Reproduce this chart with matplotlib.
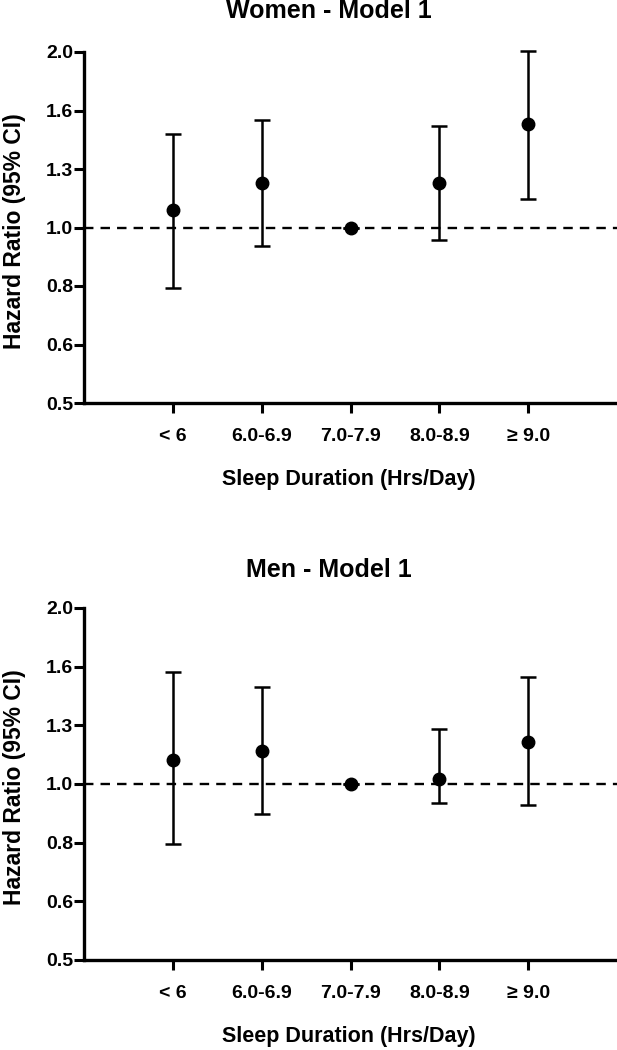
import numpy as np
import matplotlib
matplotlib.use("Agg")
import matplotlib.pyplot as plt
from matplotlib.ticker import FixedLocator, FixedFormatter, NullLocator

categories = ["< 6", "6.0-6.9", "7.0-7.9", "8.0-8.9", "\u2265 9.0"]
ytick_labels = ["0.5", "0.6", "0.8", "1.0", "1.3", "1.6", "2.0"]

women_hr = [1.071, 1.191, 1.0, 1.191, 1.504]
women_lo = [0.789, 0.930, 1.0, 0.951, 1.121]
women_hi = [1.444, 1.528, 1.0, 1.494, 2.01]

men_hr = [1.099, 1.14, 1.0, 1.021, 1.18]
men_lo = [0.79, 0.89, 1.0, 0.929, 0.92]
men_hi = [1.554, 1.467, 1.0, 1.243, 1.526]

plt.rcParams['font.family'] = ['Liberation Sans', 'DejaVu Sans']
plt.rcParams['font.weight'] = 'bold'

W, H = 617, 1050
fig = plt.figure(figsize=(W / 100, H / 100), dpi=100)

def panel(rect, title, hr, lo, hi, title_base):
    ax = fig.add_axes(rect)
    x = np.arange(1, len(categories) + 1)
    hr = np.array(hr); lo = np.array(lo); hi = np.array(hi)
    ax.axhline(1.0, color='black', lw=1.7, ls=(0, (4, 3)), zorder=1)
    ax.errorbar(x, hr, yerr=[hr - lo, hi - hr], fmt='o', color='black',
                ms=9, elinewidth=1.8, capsize=5.5, capthick=1.8,
                clip_on=False, zorder=3)
    ax.set_yscale('log', base=2)
    ax.set_ylim(0.5, 2.0)
    ax.set_xlim(0, 6)
    ticks = 2.0 ** (np.arange(-3, 4) / 3.0)
    ax.yaxis.set_major_locator(FixedLocator(ticks))
    ax.yaxis.set_major_formatter(FixedFormatter(ytick_labels))
    ax.yaxis.set_minor_locator(NullLocator())
    ax.set_xticks(x)
    ax.set_xticklabels(categories)
    for s in ['top', 'right']:
        ax.spines[s].set_visible(False)
    for s in ['left', 'bottom']:
        ax.spines[s].set_linewidth(2.4)
    ax.tick_params(axis='y', length=7, width=2.2, pad=1, labelsize=14)
    ax.tick_params(axis='x', length=7, width=2.2, pad=11, labelsize=14)
    for lab in ax.get_xticklabels() + ax.get_yticklabels():
        lab.set_fontweight('bold')
    ax.set_xlabel("Sleep Duration (Hrs/Day)", fontsize=15.5, fontweight='bold')
    ax.xaxis.label.set_va('center')
    ax.xaxis.set_label_coords(0.497, -0.218)
    ax.set_ylabel("Hazard Ratio (95% CI)", fontsize=16.5, fontweight='bold')
    ax.yaxis.label.set_va('center')
    ax.yaxis.set_label_coords(-0.131, 0.49)
    fig.text(329 / W, 1 - title_base / H, title, ha='center', va='baseline',
             fontsize=18, fontweight='bold')
    return ax

panel([84 / W, 1 - 403 / H, 1 - 84 / W, 351 / H], "Women - Model 1",
      women_hr, women_lo, women_hi, 18.5)
panel([84 / W, 1 - 960 / H, 1 - 84 / W, 352 / H], "Men - Model 1",
      men_hr, men_lo, men_hi, 577)

fig.savefig("out.png", dpi=100)
